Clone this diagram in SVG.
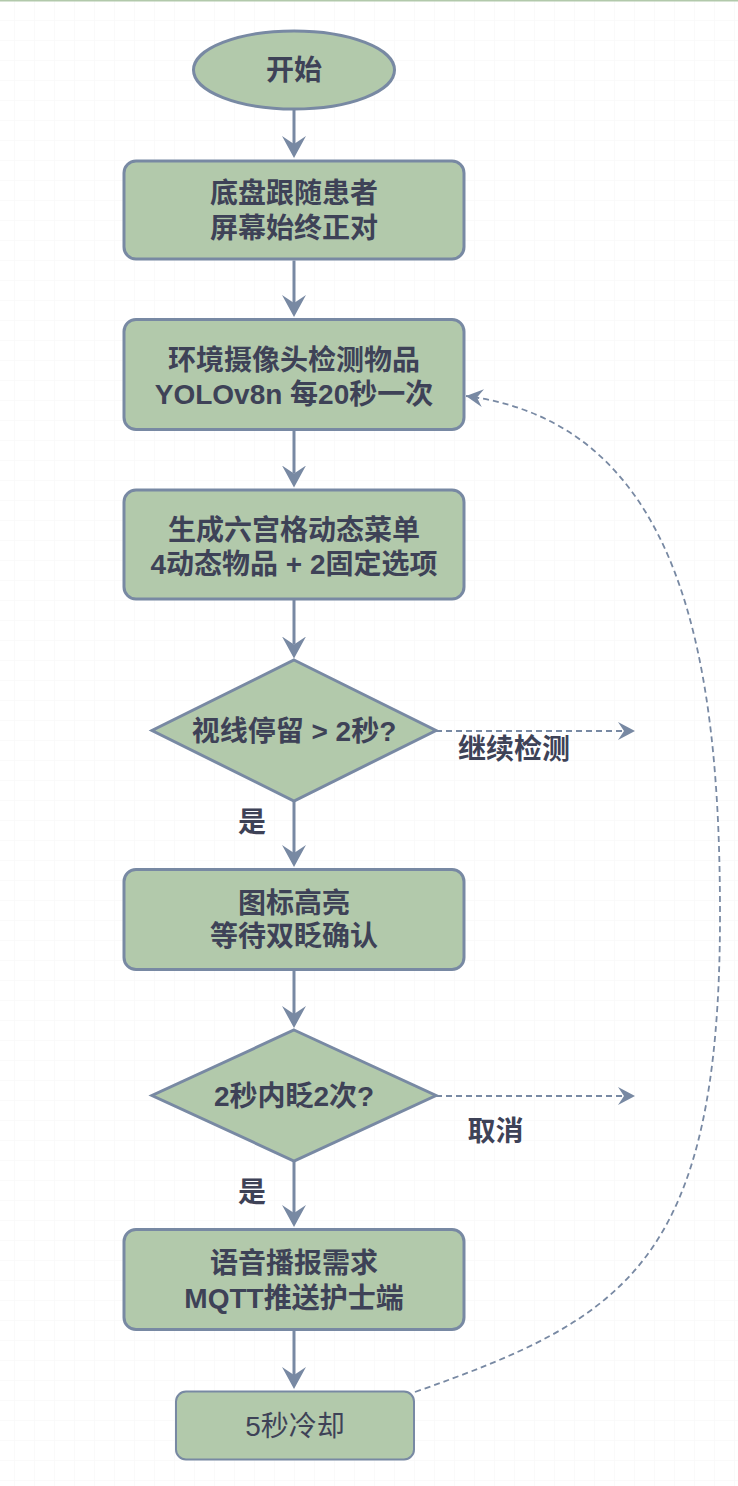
<svg xmlns="http://www.w3.org/2000/svg" width="738" height="1486" viewBox="0 0 738 1486">
<style>
.node{fill:#b2c9ab;stroke:#7889a3;stroke-width:3}
.thin{stroke-width:2}
.t{font-family:"Liberation Sans","Noto Sans CJK SC",sans-serif;font-size:28px;font-weight:bold;fill:#3e4257;text-anchor:middle;dominant-baseline:central}
.r{font-weight:normal}
.edge{fill:none;stroke:#7889a3;stroke-width:3}
.dash{fill:none;stroke:#7889a3;stroke-width:1.8;stroke-dasharray:6 4}
</style>
<defs>
<pattern id="g1" x="14" y="0" width="20" height="20" patternUnits="userSpaceOnUse">
<path d="M0,0 V20 M0,0 H20" fill="none" stroke="#f6f6f6" stroke-width="1"/>
</pattern>
<marker id="ah" markerUnits="userSpaceOnUse" markerWidth="24" markerHeight="26" refX="8" refY="12" orient="auto" viewBox="0 0 24 24">
<path d="M0,0 L22,12 L0,24 L8,12 Z" fill="#7889a3"/>
</marker>
<marker id="ad" markerUnits="userSpaceOnUse" markerWidth="18" markerHeight="20" refX="17" refY="9" orient="auto" viewBox="0 0 18 18">
<path d="M0,0 L17,9 L0,18 L6,9 Z" fill="#7889a3"/>
</marker>
</defs>
<rect width="738" height="1486" fill="#ffffff"/>
<rect width="738" height="1486" fill="url(#g1)"/>
<line x1="0" y1="0.75" x2="738" y2="0.75" stroke="#b2c9ab" stroke-width="1.5"/>

<g id="connectors">
<line class="edge" x1="294" y1="109.5" x2="294" y2="144" marker-end="url(#ah)"/>
<line class="edge" x1="294" y1="260.5" x2="294" y2="303" marker-end="url(#ah)"/>
<line class="edge" x1="294" y1="431" x2="294" y2="473.5" marker-end="url(#ah)"/>
<line class="edge" x1="294" y1="600" x2="294" y2="644.5" marker-end="url(#ah)"/>
<line class="edge" x1="294" y1="801" x2="294" y2="853" marker-end="url(#ah)"/>
<line class="edge" x1="294" y1="971" x2="294" y2="1014" marker-end="url(#ah)"/>
<line class="edge" x1="294" y1="1161" x2="294" y2="1213" marker-end="url(#ah)"/>
<line class="edge" x1="294" y1="1331" x2="294" y2="1375" marker-end="url(#ah)"/>
<line class="dash" x1="436" y1="731" x2="635" y2="731" marker-end="url(#ad)"/>
<line class="dash" x1="436" y1="1096" x2="635" y2="1096" marker-end="url(#ad)"/>
<path class="dash" d="M415,1392 C622.7,1318.7 720,1265 720,915 C720,665 684,424 466,396" marker-end="url(#ad)"/>
<text class="t" x="252" y="822">是</text>
<text class="t" x="514" y="749">继续检测</text>
<text class="t" x="495.5" y="1131">取消</text>
<text class="t" x="252" y="1192">是</text>
</g>

<g id="start">
<ellipse class="node" cx="294" cy="70" rx="100.5" ry="39"/>
<text class="t" x="294" y="70">开始</text>
</g>
<g id="follow">
<rect class="node" x="124" y="161" width="340" height="98" rx="12"/>
<text class="t" x="294" y="193">底盘跟随患者</text>
<text class="t" x="294" y="228">屏幕始终正对</text>
</g>
<g id="detect">
<rect class="node" x="124" y="319.5" width="340" height="110" rx="12"/>
<text class="t" x="294" y="360">环境摄像头检测物品</text>
<text class="t" x="294" y="394">YOLOv8n 每20秒一次</text>
</g>
<g id="menu">
<rect class="node" x="124" y="490" width="340" height="109" rx="12"/>
<text class="t" x="294" y="530">生成六宫格动态菜单</text>
<text class="t" x="294" y="564">4动态物品 + 2固定选项</text>
</g>
<g id="gaze">
<polygon class="node" points="294,660 436,730.5 294,801 152,730.5"/>
<text class="t" x="294" y="731">视线停留 &gt; 2秒?</text>
</g>
<g id="highlight">
<rect class="node" x="124" y="869.5" width="340" height="100" rx="12"/>
<text class="t" x="294" y="903">图标高亮</text>
<text class="t" x="294" y="936">等待双眨确认</text>
</g>
<g id="blink">
<polygon class="node" points="294,1030 436,1095.5 294,1161 152,1095.5"/>
<text class="t" x="294" y="1096">2秒内眨2次?</text>
</g>
<g id="notify">
<rect class="node" x="124" y="1229.5" width="340" height="100" rx="12"/>
<text class="t" x="294" y="1263">语音播报需求</text>
<text class="t" x="294" y="1298">MQTT推送护士端</text>
</g>
<g id="cooldown">
<rect class="node thin" x="176" y="1391.5" width="238" height="68" rx="10"/>
<text class="t r" x="295" y="1426">5秒冷却</text>
</g>
</svg>
